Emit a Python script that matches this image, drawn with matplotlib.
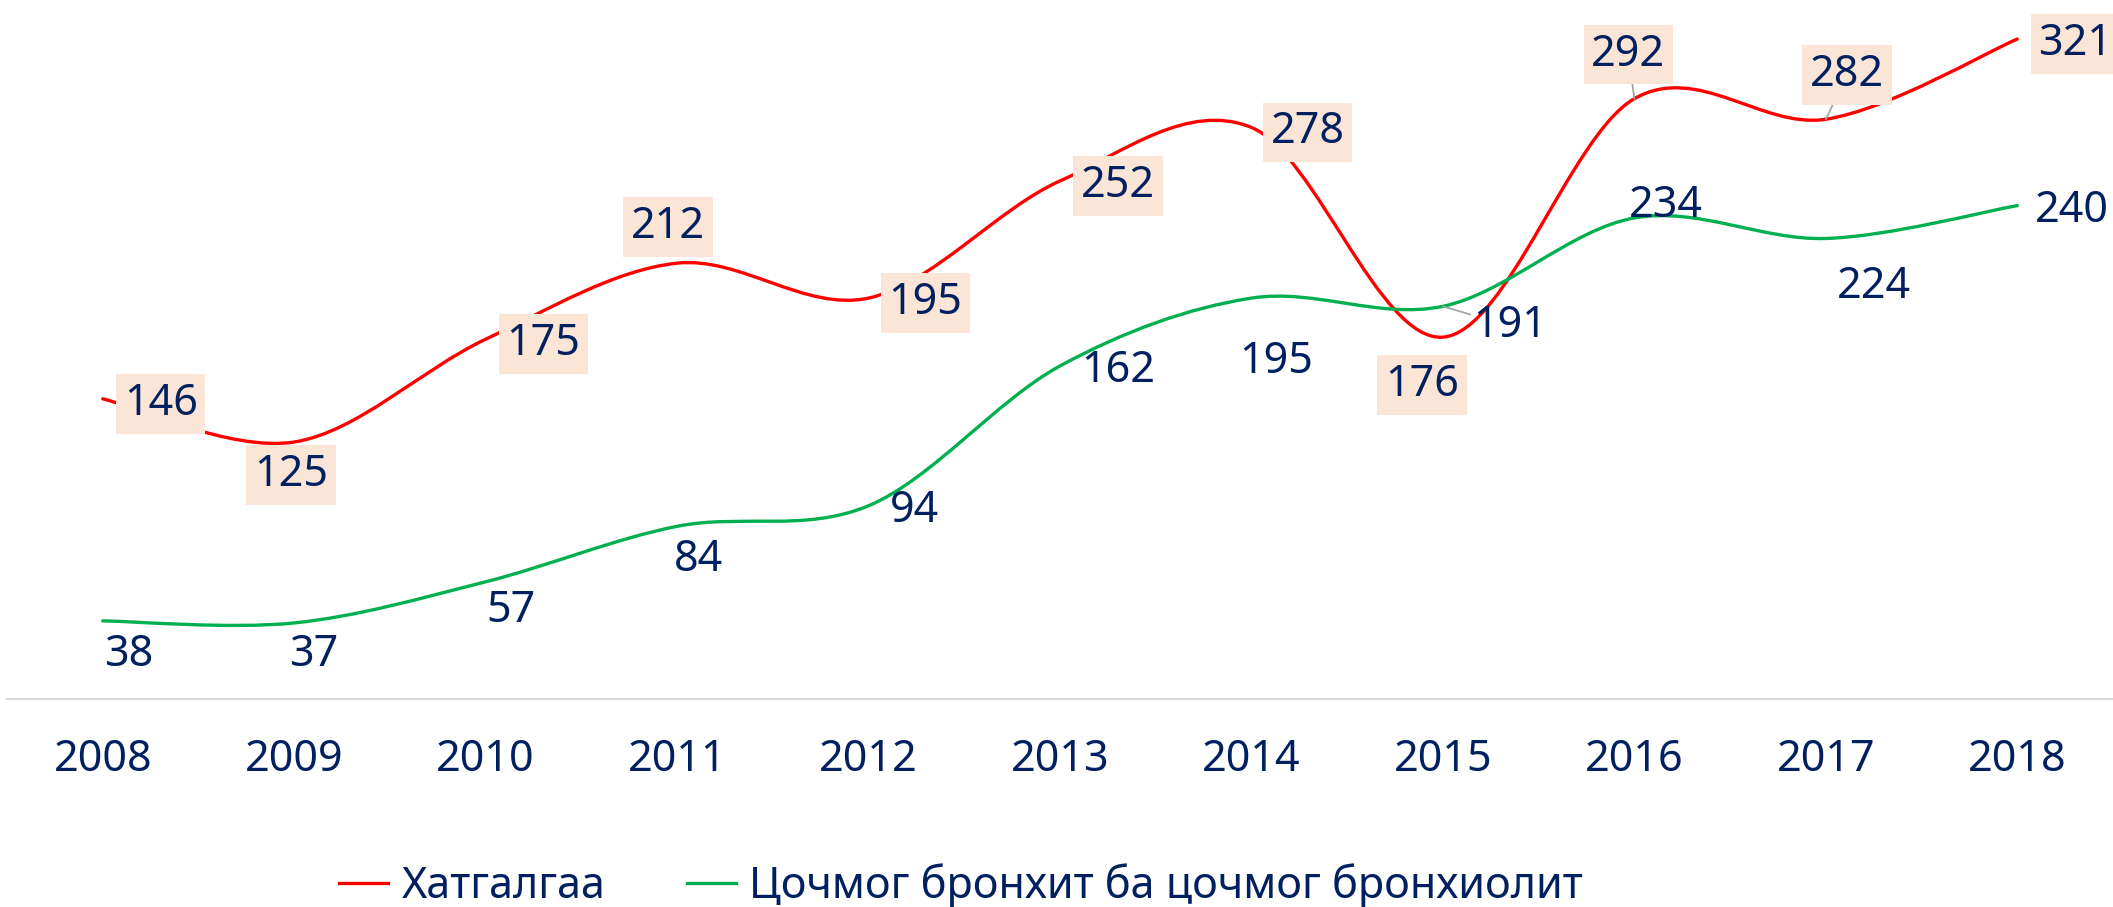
import numpy as np
import matplotlib.pyplot as plt
from matplotlib.path import Path
from matplotlib.patches import PathPatch
from matplotlib.lines import Line2D

plt.rcParams['font.family'] = ['Noto Sans', 'DejaVu Sans']

# data
years = ['2008', '2009', '2010', '2011', '2012', '2013',
         '2014', '2015', '2016', '2017', '2018']
pneumonia = [146, 125, 175, 212, 195, 252, 278, 176, 292, 282, 321]
bronchitis = [38, 37, 57, 84, 94, 162, 195, 191, 234, 224, 240]
names = ['Хатгалгаа', 'Цочмог бронхит ба цочмог бронхиолит']

# label offsets in pixels (dx, dy) relative to each point
red_offsets = [(58, 0), (-3, -28), (58, 0), (-9, 41), (57, 0), (58, 0),
               (56, 0), (-21, -43), (-6, 49), (21, 49), (58, 0)]
green_offsets = [(26, -29), (20, -27), (25, -24), (21, -29), (46, 0), (58, 0),
                 (25, -59), (67, -15), (32, 17), (48, -44), (55, 0)]
red_leaders = [8, 9]
green_leaders = [7]

RED = '#FF0000'
GREEN = '#00B050'
NAVY = '#002060'
BOX = '#FBE5D6'
FS = 31
DY = -5  # text sits a little lower than its layout box centre


def smooth_path(x, y):
    # Excel-like smoothed line: cubic Bezier segments with Catmull-Rom tangents
    x = np.asarray(x, float)
    y = np.asarray(y, float)
    n = len(x)
    verts = [(x[0], y[0])]
    codes = [Path.MOVETO]
    for i in range(n - 1):
        i0 = max(i - 1, 0)
        i3 = min(i + 2, n - 1)
        c1 = (x[i] + (x[i + 1] - x[i0]) / 6, y[i] + (y[i + 1] - y[i0]) / 6)
        c2 = (x[i + 1] - (x[i3] - x[i]) / 6, y[i + 1] - (y[i3] - y[i]) / 6)
        verts += [c1, c2, (x[i + 1], y[i + 1])]
        codes += [Path.CURVE4] * 3
    return Path(verts, codes)


fig = plt.figure(figsize=(21.13, 9.07), dpi=100)
ax = fig.add_axes([7 / 2113, 1 - 699 / 907, 2106 / 2113, 699 / 907])
ax.set_xlim(-0.5, 10.5)
ax.set_ylim(0, 340)

xs = np.arange(len(years))
ax.add_patch(PathPatch(smooth_path(xs, pneumonia), fill=False,
                       edgecolor=RED, lw=2.4, zorder=2, capstyle='round'))
ax.add_patch(PathPatch(smooth_path(xs, bronchitis), fill=False,
                       edgecolor=GREEN, lw=2.4, zorder=2, capstyle='round'))

leader = dict(arrowstyle='-', color='#A6A6A6', lw=1.3, shrinkA=0, shrinkB=0)

for i, v in enumerate(pneumonia):
    dx, dy = red_offsets[i]
    ax.annotate(str(v), xy=(xs[i], v), xytext=(dx, dy + DY),
                textcoords='offset pixels', ha='center', va='center',
                fontsize=FS, color=NAVY, zorder=5, annotation_clip=False,
                bbox=dict(boxstyle='square,pad=0.18', fc=BOX, ec='none'),
                arrowprops=leader if i in red_leaders else None)

for i, v in enumerate(bronchitis):
    dx, dy = green_offsets[i]
    ax.annotate(str(v), xy=(xs[i], v), xytext=(dx, dy + DY),
                textcoords='offset pixels', ha='center', va='center',
                fontsize=FS, color=NAVY, zorder=5, annotation_clip=False,
                arrowprops=leader if i in green_leaders else None)

ax.set_xticks(xs)
ax.set_xticklabels(years, fontsize=FS, color=NAVY)
ax.tick_params(axis='x', length=0, pad=28)
ax.set_yticks([])
for s in ['top', 'left', 'right']:
    ax.spines[s].set_visible(False)
ax.spines['bottom'].set_color('#D9D9D9')
ax.spines['bottom'].set_linewidth(1.5)

handles = [Line2D([], [], color=RED, lw=2.4), Line2D([], [], color=GREEN, lw=2.4)]
fig.legend(handles, names, loc='center', bbox_to_anchor=(961 / 2113, 1 - 886 / 907),
           ncol=2, frameon=False, fontsize=FS, labelcolor=NAVY,
           handlelength=1.15, handletextpad=0.3, columnspacing=1.9)

fig.savefig('out.png', dpi=100)
